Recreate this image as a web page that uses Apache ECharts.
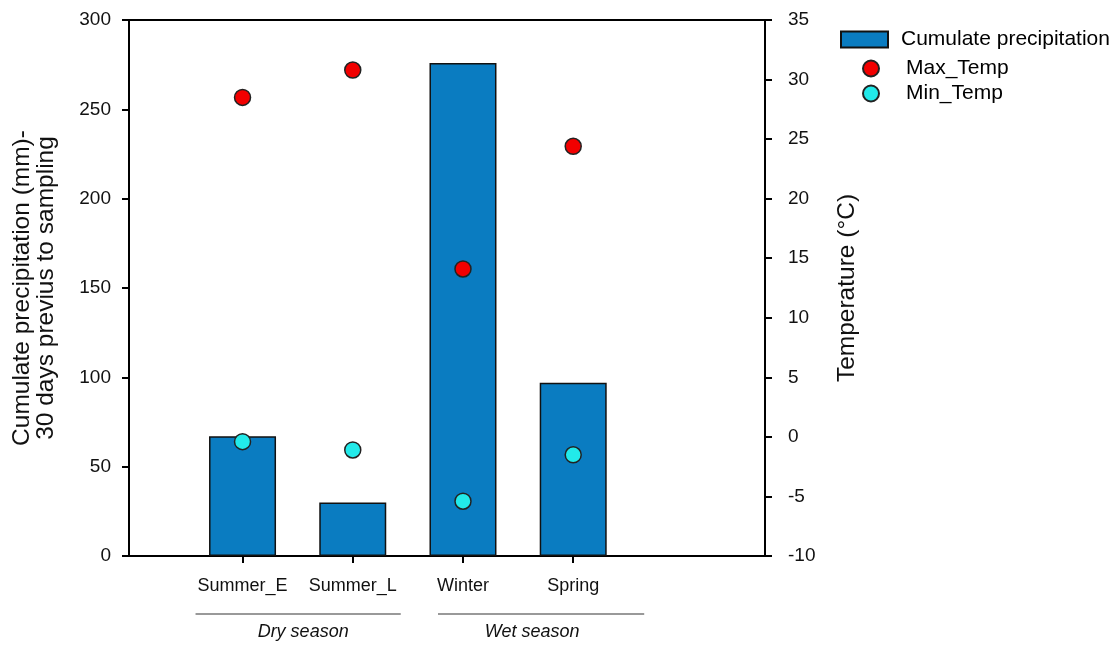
<!DOCTYPE html>
<html>
<head>
<meta charset="utf-8">
<script src="https://cdn.jsdelivr.net/npm/echarts@6/dist/echarts.min.js"></script>
<style>
html,body{margin:0;padding:0;background:#fff;}
#chart{width:1112px;height:648px;}
</style>
</head>
<body>
<div id="chart"></div>
<script>
const categories = ['Summer_E', 'Summer_L', 'Winter', 'Spring'];
const precipitation = [67, 30, 276, 97];
const maxTemp = [28.5, 30.8, 14.1, 24.4];
const minTemp = [-0.4, -1.1, -5.4, -1.5];
const leftTicks = [0, 50, 100, 150, 200, 250, 300];
const rightTicks = [-10, -5, 0, 5, 10, 15, 20, 25, 30, 35];
const seasonGroups = ['Dry season', 'Wet season'];

const FONT = '"Liberation Sans", Arial, sans-serif';
const positions = categories.map((c, i) => i + 1);

const chart = echarts.init(document.getElementById('chart'), null, {renderer: 'canvas'});

const option = {
  backgroundColor: '#ffffff',
  animation: false,
  grid: {
    left: 129, right: 347, top: 20, bottom: 92,
    show: true, borderColor: '#000', borderWidth: 2, backgroundColor: 'transparent'
  },
  legend: [
    {
      data: [{name: 'Cumulate precipitation', icon: 'rect'}],
      orient: 'vertical', left: 835, top: 24,
      itemWidth: 47, itemHeight: 16,
      textStyle: {fontFamily: FONT, fontSize: 21, color: '#000', padding: [0, 0, 0, 8]},
      selectedMode: false
    },
    {
      data: ['Max_Temp', 'Min_Temp'],
      orient: 'vertical', left: 857, top: 53,
      itemWidth: 16, itemHeight: 16, itemGap: 4,
      textStyle: {fontFamily: FONT, fontSize: 21, color: '#000', padding: [0, 0, 0, 22]},
      selectedMode: false
    }
  ],
  xAxis: {
    type: 'value',
    min: -0.03, max: 5.74,
    splitLine: {show: false},
    axisLine: {show: true, onZero: false, lineStyle: {color: '#000', width: 2}},
    axisTick: {show: true, customValues: positions, length: 7, lineStyle: {color: '#000', width: 2}},
    axisLabel: {
      customValues: positions,
      margin: 21,
      fontFamily: FONT, fontSize: 18, color: '#111',
      formatter: v => categories[Math.round(v) - 1] || ''
    }
  },
  yAxis: [
    {
      type: 'value', position: 'left',
      min: 0, max: 300, interval: 50,
      splitLine: {show: false},
      axisLine: {show: true, onZero: false, lineStyle: {color: '#000', width: 2}},
      axisTick: {show: true, length: 7, lineStyle: {color: '#000', width: 2}},
      axisLabel: {margin: 18, fontFamily: FONT, fontSize: 19, color: '#111',
        formatter: v => leftTicks.includes(v) ? String(v) : ''},
      name: 'Cumulate precipitation (mm)-\n30 days previus to sampling',
      nameLocation: 'middle', nameRotate: 90, nameGap: 71,
      nameTextStyle: {fontFamily: FONT, fontSize: 24.5, color: '#111', lineHeight: 24}
    },
    {
      type: 'value', position: 'right',
      min: -10, max: 35, interval: 5,
      splitLine: {show: false},
      axisLine: {show: true, onZero: false, lineStyle: {color: '#000', width: 2}},
      axisTick: {show: true, length: 7, lineStyle: {color: '#000', width: 2}},
      axisLabel: {margin: 23, fontFamily: FONT, fontSize: 19, color: '#111',
        formatter: v => rightTicks.includes(v) ? String(v) : ''},
      name: 'Temperature (°C)',
      nameLocation: 'middle', nameRotate: 90, nameGap: 70,
      nameTextStyle: {fontFamily: FONT, fontSize: 24.5, color: '#111'}
    }
  ],
  series: [
    {
      name: 'Cumulate precipitation',
      type: 'bar',
      yAxisIndex: 0,
      barWidth: 67,
      data: precipitation.map((v, i) => [positions[i], v]),
      itemStyle: {color: '#0A7CC1', borderColor: '#111', borderWidth: 1.5}
    },
    {
      name: 'Max_Temp',
      type: 'scatter',
      yAxisIndex: 1,
      symbol: 'circle', symbolSize: 16,
      data: maxTemp.map((v, i) => [positions[i], v]),
      itemStyle: {color: '#F20000', borderColor: '#222', borderWidth: 1.5, opacity: 1},
      z: 5
    },
    {
      name: 'Min_Temp',
      type: 'scatter',
      yAxisIndex: 1,
      symbol: 'circle', symbolSize: 16,
      data: minTemp.map((v, i) => [positions[i], v]),
      itemStyle: {color: '#22EAEA', borderColor: '#222', borderWidth: 1.5, opacity: 1},
      z: 5
    }
  ]
};

chart.setOption(option);

// season group annotations under the category labels
const px = v => chart.convertToPixel({xAxisIndex: 0}, v);
const spans = [
  [px(positions[0]) - 47, px(positions[1]) + 48, 5],
  [px(positions[2]) - 25, px(positions[3]) + 71, -9]
];
const graphics = [];
seasonGroups.forEach((g, i) => {
  const [x1, x2, dx] = spans[i];
  graphics.push({
    type: 'line', silent: true,
    shape: {x1: x1, y1: 614, x2: x2, y2: 614},
    style: {stroke: '#777', lineWidth: 1.5}
  });
  graphics.push({
    type: 'text', silent: true,
    x: (x1 + x2) / 2 + dx, y: 632,
    style: {text: g, fontFamily: FONT, fontSize: 18, fontStyle: 'italic', fill: '#111',
      textAlign: 'center', textVerticalAlign: 'middle'}
  });
});
chart.setOption({graphic: graphics});
</script>
</body>
</html>
